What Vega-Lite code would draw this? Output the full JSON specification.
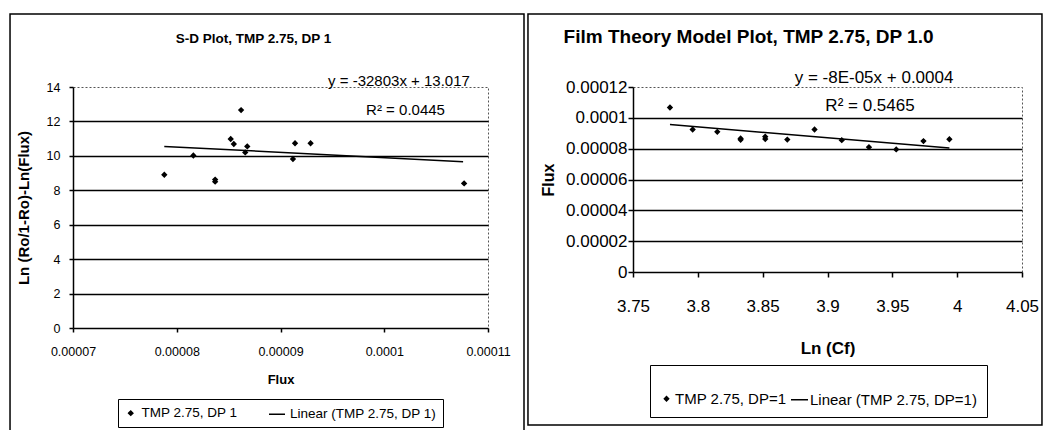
{
  "$schema": "https://vega.github.io/schema/vega-lite/v6.json",
  "padding": {"left": 8, "top": 12, "right": 0, "bottom": 0},
  "background": "white",
  "spacing": 0,
  "config": {
    "font": "Liberation Sans",
    "view": {"stroke": "#555555", "strokeDash": [2, 2], "strokeWidth": 1},
    "axis": {
      "domainColor": "black", "domainWidth": 1.5,
      "tickColor": "black", "tickWidth": 1.5,
      "labelColor": "black", "titleColor": "black",
      "gridColor": "black", "gridWidth": 1.5,
      "labelFlush": false, "labelOverlap": false
    },
    "text": {"color": "black"}
  },
  "datasets": {
    "one": [{}],
    "sd": [
      {"flux": 0.0000788, "lnratio": 8.9, "series": "TMP 2.75, DP 1"},
      {"flux": 0.0000816, "lnratio": 10.02, "series": "TMP 2.75, DP 1"},
      {"flux": 0.0000837, "lnratio": 8.62, "series": "TMP 2.75, DP 1"},
      {"flux": 0.0000837, "lnratio": 8.5, "series": "TMP 2.75, DP 1"},
      {"flux": 0.0000852, "lnratio": 10.98, "series": "TMP 2.75, DP 1"},
      {"flux": 0.0000855, "lnratio": 10.69, "series": "TMP 2.75, DP 1"},
      {"flux": 0.0000862, "lnratio": 12.66, "series": "TMP 2.75, DP 1"},
      {"flux": 0.0000866, "lnratio": 10.2, "series": "TMP 2.75, DP 1"},
      {"flux": 0.0000868, "lnratio": 10.55, "series": "TMP 2.75, DP 1"},
      {"flux": 0.0000912, "lnratio": 9.82, "series": "TMP 2.75, DP 1"},
      {"flux": 0.0000914, "lnratio": 10.73, "series": "TMP 2.75, DP 1"},
      {"flux": 0.0000929, "lnratio": 10.73, "series": "TMP 2.75, DP 1"},
      {"flux": 0.0001077, "lnratio": 8.4, "series": "TMP 2.75, DP 1"}
    ],
    "sdfit": [
      {"flux": 0.0000788, "lnratio": 10.55},
      {"flux": 0.0001076, "lnratio": 9.66}
    ],
    "film": [
      {"lncf": 3.7785, "flux": 0.0001067, "series": "TMP 2.75, DP=1"},
      {"lncf": 3.796, "flux": 0.0000924, "series": "TMP 2.75, DP=1"},
      {"lncf": 3.815, "flux": 0.0000909, "series": "TMP 2.75, DP=1"},
      {"lncf": 3.833, "flux": 0.0000858, "series": "TMP 2.75, DP=1"},
      {"lncf": 3.833, "flux": 0.0000866, "series": "TMP 2.75, DP=1"},
      {"lncf": 3.852, "flux": 0.0000862, "series": "TMP 2.75, DP=1"},
      {"lncf": 3.852, "flux": 0.0000878, "series": "TMP 2.75, DP=1"},
      {"lncf": 3.869, "flux": 0.0000859, "series": "TMP 2.75, DP=1"},
      {"lncf": 3.89, "flux": 0.0000924, "series": "TMP 2.75, DP=1"},
      {"lncf": 3.911, "flux": 0.0000855, "series": "TMP 2.75, DP=1"},
      {"lncf": 3.932, "flux": 0.000081, "series": "TMP 2.75, DP=1"},
      {"lncf": 3.953, "flux": 0.0000795, "series": "TMP 2.75, DP=1"},
      {"lncf": 3.974, "flux": 0.0000849, "series": "TMP 2.75, DP=1"},
      {"lncf": 3.994, "flux": 0.0000861, "series": "TMP 2.75, DP=1"}
    ],
    "filmfit": [
      {"lncf": 3.7785, "flux": 0.0000956},
      {"lncf": 3.994, "flux": 0.0000805}
    ]
  },
  "resolve": {
    "scale": {"x": "independent", "y": "independent", "shape": "independent", "size": "independent"},
    "axis": {"x": "independent", "y": "independent"},
    "legend": {"shape": "independent", "size": "independent"}
  },
  "hconcat": [
    {
      "width": 415,
      "height": 241,
      "layer": [
        {
          "data": {"name": "sd"},
          "mark": {"type": "point", "shape": "diamond", "filled": true, "fill": "black", "stroke": "black", "strokeWidth": 1.5, "opacity": 1},
          "encoding": {
            "x": {
              "field": "flux", "type": "quantitative",
              "scale": {"domain": [0.00007, 0.00011], "nice": false, "zero": false},
              "axis": {"title": "Flux", "titleFontSize": 13, "titleFontWeight": "bold", "titlePadding": 16, "labelFontSize": 12.5, "labelPadding": 13, "tickSize": 4, "tickCount": 20, "values": [0.00007, 0.00008, 0.00009, 0.0001, 0.00011], "format": "~g", "grid": false}
            },
            "y": {
              "field": "lnratio", "type": "quantitative",
              "scale": {"domain": [0, 14], "nice": false, "zero": false},
              "axis": {"title": "Ln (Ro/1-Ro)-Ln(Flux)", "titleFontSize": 15, "titleFontWeight": "bold", "titlePadding": 15, "labelFontSize": 12.5, "labelPadding": 9, "tickSize": 4, "tickCount": 20, "values": [0, 2, 4, 6, 8, 10, 12, 14], "format": "~g", "grid": true, "gridOpacity": {"condition": {"test": "datum.value >= 14 || datum.value <= 0", "value": 0}, "value": 1}}
            },
            "shape": {
              "field": "series", "type": "nominal",
              "scale": {"domain": ["TMP 2.75, DP 1", "Linear (TMP 2.75, DP 1)"], "range": ["diamond", "stroke"]},
              "legend": {
                "title": null, "orient": "none", "legendX": 45, "legendY": 312, "direction": "horizontal",
                "strokeColor": "black", "fillColor": "white", "padding": 6,
                "labelFontSize": 13.5, "labelColor": "black", "labelLimit": 400,
                "labelOffset": 4, "columnPadding": 28
              }
            },
            "size": {
              "field": "series", "type": "nominal",
              "scale": {"type": "ordinal", "domain": ["TMP 2.75, DP 1", "Linear (TMP 2.75, DP 1)"], "range": [18, 256]},
              "legend": {
                "title": null, "orient": "none", "legendX": 45, "legendY": 312, "direction": "horizontal",
                "strokeColor": "black", "fillColor": "white", "padding": 6,
                "labelFontSize": 13.5, "labelColor": "black", "labelLimit": 400,
                "labelOffset": 4, "columnPadding": 28
              }
            }
          }
        },
        {
          "data": {"name": "sdfit"},
          "mark": {"type": "line", "color": "black", "strokeWidth": 1.5},
          "encoding": {
            "x": {"field": "flux", "type": "quantitative", "scale": {"domain": [0.00007, 0.00011], "nice": false, "zero": false}},
            "y": {"field": "lnratio", "type": "quantitative", "scale": {"domain": [0, 14], "nice": false, "zero": false}}
          }
        },
        {
          "data": {"name": "one"},
          "mark": {"type": "rect", "fill": null, "stroke": "black", "strokeWidth": 1.5},
          "encoding": {
            "x": {"datum": 0.00006393, "type": "quantitative", "scale": {"domain": [0.00007, 0.00011], "nice": false, "zero": false}},
            "x2": {"datum": 0.00011347},
            "y": {"datum": 18.24, "type": "quantitative", "scale": {"domain": [0, 14], "nice": false, "zero": false}},
            "y2": {"datum": -19.93}
          }
        },
        {
          "data": {"name": "one"},
          "mark": {"type": "text", "text": "S-D Plot, TMP 2.75, DP 1", "fontSize": 13.5, "fontWeight": "bold", "align": "center", "baseline": "alphabetic"},
          "encoding": {
            "x": {"datum": 0.0000874, "type": "quantitative", "scale": {"domain": [0.00007, 0.00011], "nice": false, "zero": false}},
            "y": {"datum": 16.556, "type": "quantitative", "scale": {"domain": [0, 14], "nice": false, "zero": false}}
          }
        },
        {
          "data": {"name": "one"},
          "mark": {"type": "text", "text": "y = -32803x + 13.017", "fontSize": 15, "align": "center", "baseline": "alphabetic"},
          "encoding": {
            "x": {"datum": 0.00010142, "type": "quantitative", "scale": {"domain": [0.00007, 0.00011], "nice": false, "zero": false}},
            "y": {"datum": 14.04, "type": "quantitative", "scale": {"domain": [0, 14], "nice": false, "zero": false}}
          }
        },
        {
          "data": {"name": "one"},
          "mark": {"type": "text", "text": "R² = 0.0445", "fontSize": 15, "align": "center", "baseline": "alphabetic"},
          "encoding": {
            "x": {"datum": 0.00010205, "type": "quantitative", "scale": {"domain": [0.00007, 0.00011], "nice": false, "zero": false}},
            "y": {"datum": 12.39, "type": "quantitative", "scale": {"domain": [0, 14], "nice": false, "zero": false}}
          }
        }
      ]
    },
    {
      "width": 389,
      "height": 185,
      "layer": [
        {
          "data": {"name": "film"},
          "mark": {"type": "point", "shape": "diamond", "filled": true, "fill": "black", "stroke": "black", "strokeWidth": 1.5, "opacity": 1},
          "encoding": {
            "x": {
              "field": "lncf", "type": "quantitative",
              "scale": {"domain": [3.75, 4.05], "nice": false, "zero": false},
              "axis": {"title": "Ln (Cf)", "titleFontSize": 17, "titleFontWeight": "bold", "titlePadding": 26, "labelFontSize": 17, "labelPadding": 21, "tickSize": 5, "tickCount": 20, "values": [3.75, 3.8, 3.85, 3.9, 3.95, 4, 4.05], "format": "~g", "grid": false}
            },
            "y": {
              "field": "flux", "type": "quantitative",
              "scale": {"domain": [0, 0.00012], "nice": false, "zero": false},
              "axis": {"title": "Flux", "titleFontSize": 16, "titleFontWeight": "bold", "titlePadding": 9, "labelFontSize": 17, "labelPadding": 1, "tickSize": 5, "tickCount": 20, "values": [0, 0.00002, 0.00004, 0.00006, 0.00008, 0.0001, 0.00012], "format": "~g", "grid": true, "gridOpacity": {"condition": {"test": "datum.value >= 0.000119 || datum.value <= 0", "value": 0}, "value": 1}}
            },
            "shape": {
              "field": "series", "type": "nominal",
              "scale": {"domain": ["TMP 2.75, DP=1", "Linear (TMP 2.75, DP=1)"], "range": ["diamond", "stroke"]},
              "legend": {
                "title": " ", "titleFontSize": 14, "titlePadding": 2,
                "orient": "none", "legendX": 17, "legendY": 278, "direction": "horizontal",
                "strokeColor": "black", "fillColor": "white", "padding": 9,
                "labelFontSize": 15, "labelColor": "black", "labelLimit": 400,
                "labelOffset": 1, "columnPadding": 1
              }
            },
            "size": {
              "field": "series", "type": "nominal",
              "scale": {"type": "ordinal", "domain": ["TMP 2.75, DP=1", "Linear (TMP 2.75, DP=1)"], "range": [18, 289]},
              "legend": {
                "title": " ", "titleFontSize": 14, "titlePadding": 2,
                "orient": "none", "legendX": 17, "legendY": 278, "direction": "horizontal",
                "strokeColor": "black", "fillColor": "white", "padding": 9,
                "labelFontSize": 15, "labelColor": "black", "labelLimit": 400,
                "labelOffset": 1, "columnPadding": 1
              }
            }
          }
        },
        {
          "data": {"name": "filmfit"},
          "mark": {"type": "line", "color": "black", "strokeWidth": 1.5},
          "encoding": {
            "x": {"field": "lncf", "type": "quantitative", "scale": {"domain": [3.75, 4.05], "nice": false, "zero": false}},
            "y": {"field": "flux", "type": "quantitative", "scale": {"domain": [0, 0.00012], "nice": false, "zero": false}}
          }
        },
        {
          "data": {"name": "one"},
          "mark": {"type": "rect", "fill": null, "stroke": "black", "strokeWidth": 1.5},
          "encoding": {
            "x": {"datum": 3.669, "type": "quantitative", "scale": {"domain": [3.75, 4.05], "nice": false, "zero": false}},
            "x2": {"datum": 4.0654},
            "y": {"datum": 0.0001673, "type": "quantitative", "scale": {"domain": [0, 0.00012], "nice": false, "zero": false}},
            "y2": {"datum": -0.00009923}
          }
        },
        {
          "data": {"name": "one"},
          "mark": {"type": "text", "text": "Film Theory Model Plot, TMP 2.75, DP 1.0", "fontSize": 19, "fontWeight": "bold", "align": "center", "baseline": "alphabetic"},
          "encoding": {
            "x": {"datum": 3.8391, "type": "quantitative", "scale": {"domain": [3.75, 4.05], "nice": false, "zero": false}},
            "y": {"datum": 0.00014854, "type": "quantitative", "scale": {"domain": [0, 0.00012], "nice": false, "zero": false}}
          }
        },
        {
          "data": {"name": "one"},
          "mark": {"type": "text", "text": "y = -8E-05x + 0.0004", "fontSize": 17, "align": "center", "baseline": "alphabetic"},
          "encoding": {
            "x": {"datum": 3.9359, "type": "quantitative", "scale": {"domain": [3.75, 4.05], "nice": false, "zero": false}},
            "y": {"datum": 0.0001228, "type": "quantitative", "scale": {"domain": [0, 0.00012], "nice": false, "zero": false}}
          }
        },
        {
          "data": {"name": "one"},
          "mark": {"type": "text", "text": "R² = 0.5465", "fontSize": 17, "align": "center", "baseline": "alphabetic"},
          "encoding": {
            "x": {"datum": 3.9328, "type": "quantitative", "scale": {"domain": [3.75, 4.05], "nice": false, "zero": false}},
            "y": {"datum": 0.0001044, "type": "quantitative", "scale": {"domain": [0, 0.00012], "nice": false, "zero": false}}
          }
        }
      ]
    }
  ]
}
